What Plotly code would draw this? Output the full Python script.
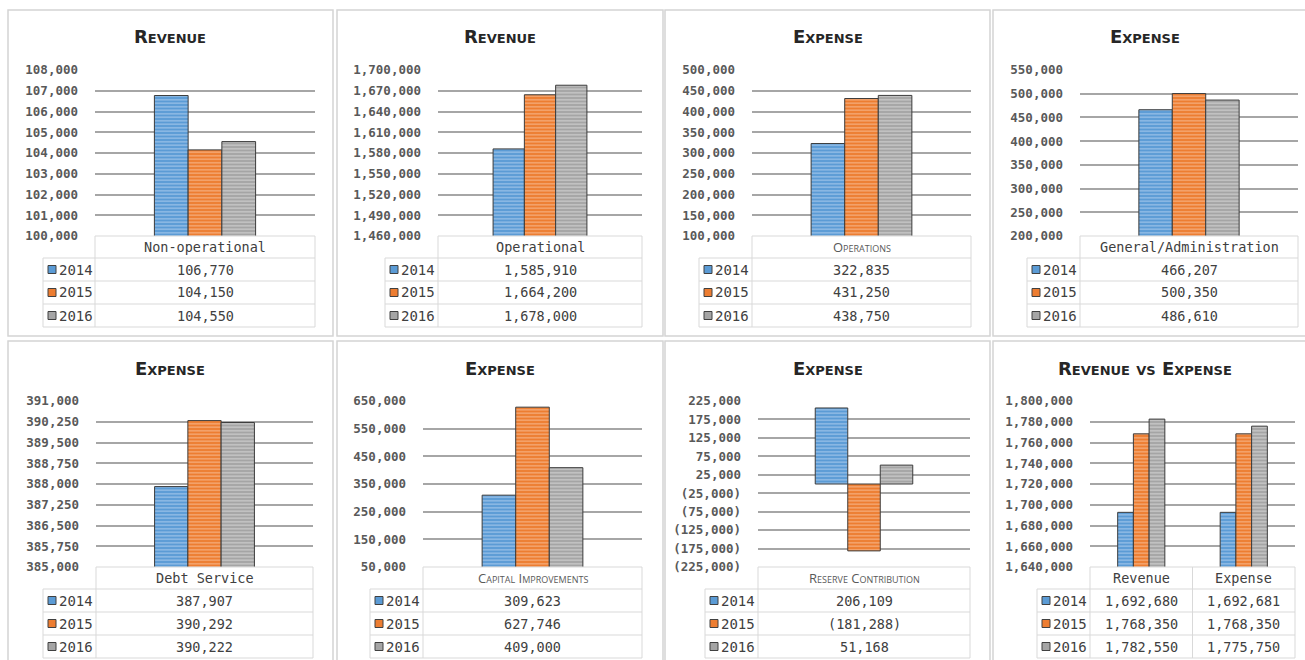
import plotly.graph_objects as go

W, H = 1305, 660

# ---------------- data ----------------
YEARS = ["2014", "2015", "2016"]
TITLES = ["Revenue", "Revenue", "Expense", "Expense",
          "Expense", "Expense", "Expense", "Revenue vs Expense"]
CATEGORIES = [["Non-operational"], ["Operational"], ["Operations"],
              ["General/Administration"], ["Debt Service"],
              ["Capital Improvements"], ["Reserve Contribution"],
              ["Revenue", "Expense"]]
VALUES_2014 = [[106770], [1585910], [322835], [466207],
               [387907], [309623], [206109], [1692680, 1692681]]
VALUES_2015 = [[104150], [1664200], [431250], [500350],
               [390292], [627746], [-181288], [1768350, 1768350]]
VALUES_2016 = [[104550], [1678000], [438750], [486610],
               [390222], [409000], [51168], [1782550, 1775750]]
Y_MIN = [100000, 1460000, 100000, 200000, 385000, 50000, -225000, 1640000]
Y_MAX = [108000, 1700000, 500000, 550000, 391000, 650000, 225000, 1800000]
Y_STEP = [1000, 30000, 50000, 50000, 750, 100000, 50000, 20000]
SMALLCAPS_HEADER = [False, False, True, False, False, True, True, False]

# ---------------- style / geometry ----------------
COLORS = ["#5b9bd5", "#ed7d31", "#a5a5a5"]
STRIPES = ["#c2dbf4", "#fbcdae", "#e2e2e2"]
MONO = "DejaVu Sans Mono"
SANS = "DejaVu Sans"

BOX_X0 = [8, 337, 665, 993]
BOX_X1 = [333, 663, 990, 1315]
BOX_Y = [(10, 336), (341, 670)]
TITLE_Y = [37, 368]
PLOT_TOP = [70, 401]
PLOT_BOTTOM = [236, 567]
PLOT_LEFT = [95, 438, 752, 1080, 96, 423, 758, 1090]
PLOT_RIGHT = [315, 642, 971, 1298, 313, 642, 970, 1295]
LABEL_LEFT = [43, 385, 699, 1027, 43, 370, 705, 1037]
HEADER_H = 22
ROW_H = 23


def px(x):
    return x / W


def py(y):
    return 1 - y / H


def fmt(v):
    return f"({abs(v):,})" if v < 0 else f"{v:,}"


fig = go.Figure()
shapes = []
annotations = []
GRID = "#d9d9d9"

for i in range(8):
    r, c = divmod(i, 4)
    ax = "" if i == 0 else str(i + 1)
    cats = CATEGORIES[i]
    series = [VALUES_2014[i], VALUES_2015[i], VALUES_2016[i]]
    for k, yr in enumerate(YEARS):
        fig.add_trace(go.Bar(
            x=cats, y=series[k], name=yr, xaxis="x" + ax, yaxis="y" + ax,
            offsetgroup=str(k), showlegend=False,
            marker=dict(color=COLORS[k],
                        line=dict(color="#3c3c3c", width=1),
                        pattern=dict(shape="-", fgcolor=STRIPES[k],
                                     size=3.5, solidity=0.45,
                                     fillmode="overlay")),
        ))
    L, R = PLOT_LEFT[i], PLOT_RIGHT[i]
    T, B = PLOT_TOP[r], PLOT_BOTTOM[r]
    tickvals = list(range(Y_MIN[i], Y_MAX[i] + 1, Y_STEP[i]))
    fig.layout["xaxis" + ax] = dict(
        domain=[px(L), px(R)], range=[-0.5, len(cats) - 0.5],
        type="category", showticklabels=False, showgrid=False,
        zeroline=False, showline=False, anchor="y" + ax, fixedrange=True,
        automargin=False)
    fig.layout["yaxis" + ax] = dict(
        domain=[py(B), py(T)], range=[Y_MIN[i], Y_MAX[i]],
        tickvals=tickvals, ticktext=[fmt(v) for v in tickvals],
        showgrid=True, gridcolor="#a6a6a6", gridwidth=1.5,
        zeroline=False, showline=False, anchor="x" + ax,
        ticks="", ticklabelstandoff=16, automargin=False,
        tickfont=dict(family=MONO, size=12.5, color="#595959", weight="bold"),
        fixedrange=True)

    bx0, bx1 = BOX_X0[c], BOX_X1[c]
    by0, by1 = BOX_Y[r]
    shapes.append(dict(type="rect", xref="paper", yref="paper",
                       x0=px(bx0), x1=px(bx1), y0=py(by1), y1=py(by0),
                       line=dict(color="#d4d4d4", width=1.5),
                       fillcolor="rgba(0,0,0,0)", layer="below"))
    annotations.append(dict(
        text=TITLES[i], xref="paper", yref="paper",
        x=px((bx0 + min(bx1, W)) / 2 + (0 if c < 3 else -4)), y=py(TITLE_Y[r]),
        xanchor="center", yanchor="middle", showarrow=False,
        font=dict(family=SANS, size=18, color="#262626",
                  weight="bold", variant="small-caps")))

    LL = LABEL_LEFT[i]
    ht = B
    hb = B + HEADER_H
    tb = hb + 3 * ROW_H
    line = dict(color=GRID, width=1)

    def hline(x0, x1, y):
        shapes.append(dict(type="line", xref="paper", yref="paper",
                           x0=px(x0), x1=px(x1), y0=py(y), y1=py(y), line=line))

    def vline(x, y0, y1):
        shapes.append(dict(type="line", xref="paper", yref="paper",
                           x0=px(x), x1=px(x), y0=py(y0), y1=py(y1), line=line))

    hline(L, R, ht)
    for j in range(4):
        hline(LL, R, hb + j * ROW_H)
    vline(LL, hb, tb)
    n = len(cats)
    colw = (R - L) / n
    for j in range(n + 1):
        vline(L + j * colw, ht, tb)

    for j, cat in enumerate(cats):
        cx = L + (j + 0.5) * colw
        if SMALLCAPS_HEADER[i]:
            hf = dict(family="Open Sans", size=13, color="#595959",
                      variant="small-caps")
        else:
            hf = dict(family=MONO, size=13.5, color="#404040")
        annotations.append(dict(
            text=cat, xref="paper", yref="paper", x=px(cx),
            y=py(ht + HEADER_H / 2), xanchor="center", yanchor="middle",
            showarrow=False, font=hf))
        for k in range(3):
            annotations.append(dict(
                text=fmt(series[k][j]), xref="paper", yref="paper", x=px(cx),
                y=py(hb + (k + 0.5) * ROW_H), xanchor="center",
                yanchor="middle", showarrow=False,
                font=dict(family=MONO, size=13.5, color="#404040")))
    for k, yr in enumerate(YEARS):
        ycen = hb + (k + 0.5) * ROW_H
        shapes.append(dict(type="rect", xref="paper", yref="paper",
                           x0=px(LL + 5), x1=px(LL + 13),
                           y0=py(ycen + 4), y1=py(ycen - 4),
                           fillcolor=COLORS[k],
                           line=dict(color="#404040", width=1)))
        annotations.append(dict(
            text=yr, xref="paper", yref="paper", x=px(LL + 14),
            y=py(ycen), xanchor="left", yanchor="middle", showarrow=False,
            font=dict(family=MONO, size=14, color="#404040")))

fig.update_layout(
    width=W, height=H, autosize=False,
    margin=dict(l=0, r=0, t=0, b=0, pad=0, autoexpand=False),
    paper_bgcolor="white", plot_bgcolor="rgba(0,0,0,0)",
    barmode="group", bargap=0.54, bargroupgap=0,
    shapes=shapes, annotations=annotations,
)

fig.write_html("out.html", config={"displayModeBar": False},
               post_script="document.body.style.margin='0';"
                           "document.body.style.overflow='hidden';")
